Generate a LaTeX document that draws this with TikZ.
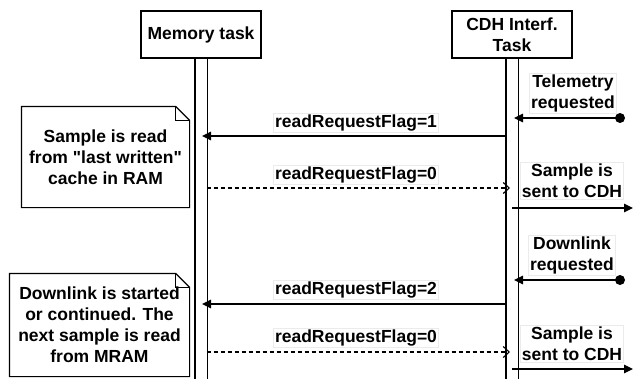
\documentclass[tikz,border=0pt]{standalone}
\usepackage{fontspec}
\setmainfont{Liberation Sans}[Ligatures=TeXOff]
\usetikzlibrary{arrows.meta,calc}
\begin{document}
\begin{tikzpicture}[x=1pt,y=-1pt,
  font=\bfseries\fontsize{17.5}{21}\selectfont,
  line width=1.2pt,
  actor/.style={draw, minimum width=120pt, minimum height=47pt, align=center, inner sep=2pt},
  bar/.style={minimum width=11pt, minimum height=320pt, inner sep=0pt},
  lbl/.style={fill=white, draw=black!8, line width=0.6pt, inner sep=1.5pt, align=center},
  notebox/.style={align=center, inner sep=0pt},
  dot/.style={circle, fill=black, minimum size=10pt, inner sep=0pt},
  msg/.style={-{Triangle[length=9pt,width=8.5pt]}},
  ret/.style={dash pattern=on 4pt off 3pt, -{Straight Barb[length=6pt,width=11pt,line width=1.1pt]}},
]
\useasboundingbox (0,0) rectangle (634,378);

% lifeline heads
\node[actor] (mem) at (201,34.5) {Memory task};
\node[actor] (cdh) at (512,34.5) {CDH Interf.\\Task};

% activation bars (open towards the bottom edge)
\node[bar, anchor=north] (memBar) at (mem.south) {};
\node[bar, anchor=north] (cdhBar) at (cdh.south) {};
\draw (memBar.north west) -- (memBar.south west)
      (memBar.north east) -- (memBar.south east);
\draw (cdhBar.north west) -- (cdhBar.south west)
      (cdhBar.north east) -- (cdhBar.south east);

% notes with folded corner
\node[notebox, minimum width=167pt, minimum height=100pt] (note1) at (105.5,157)
  {Sample is read\\from "last written"\\cache in RAM};
\node[notebox, minimum width=179pt, minimum height=102pt] (note2) at (99.5,325)
  {Downlink is started\\or continued. The\\next sample is read\\from MRAM};
\foreach \n in {note1,note2}{
  \draw[line join=miter] (\n.north west) -- ($(\n.north east)+(-14,0)$)
    -- ($(\n.north east)+(0,14)$) -- (\n.south east) -- (\n.south west) -- cycle;
  \draw ($(\n.north east)+(-14,0)$) -- ($(\n.north east)+(-14,14)$)
    -- ($(\n.north east)+(0,14)$);
}

% message end points
\coordinate (telEnd) at (514,118);
\coordinate (rq1a) at (506.5,136);  \coordinate (rq1b) at (202,136);
\coordinate (rt1a) at (206.5,188);  \coordinate (rt1b) at (510,188);
\coordinate (snd1a) at (512,208);   \coordinate (snd1b) at (633,208);
\coordinate (dlEnd) at (514,280);
\coordinate (rq2a) at (506.5,304);  \coordinate (rq2b) at (202,304);
\coordinate (rt2a) at (206.5,352);  \coordinate (rt2b) at (510,352);
\coordinate (snd2a) at (512,369);   \coordinate (snd2b) at (633,369);

% external triggers
\node[dot] (tel) at (620,118) {};
\node[dot] (dl) at (620,280) {};

% messages
\draw[msg] (tel.center) -- (telEnd);
\draw[msg] (rq1a) -- (rq1b);
\draw[ret] (rt1a) -- (rt1b);
\draw[msg] (snd1a) -- (snd1b);
\draw[msg] (dl.center) -- (dlEnd);
\draw[msg] (rq2a) -- (rq2b);
\draw[ret] (rt2a) -- (rt2b);
\draw[msg] (snd2a) -- (snd2b);

% message labels
\node[lbl] (lTel) at (573,93) {Telemetry\\requested};
\node[lbl] (lRq1) at (356,123) {readRequestFlag=1};
\node[lbl] (lRt1) at (356,175) {readRequestFlag=0};
\node[lbl] (lSnd1) at (572,181) {Sample is\\sent to CDH};
\node[lbl] (lDl) at (572,255) {Downlink\\requested};
\node[lbl] (lRq2) at (356,290) {readRequestFlag=2};
\node[lbl] (lRt2) at (356,338) {readRequestFlag=0};
\node[lbl] (lSnd2) at (572,344) {Sample is\\sent to CDH};
\end{tikzpicture}
\end{document}
